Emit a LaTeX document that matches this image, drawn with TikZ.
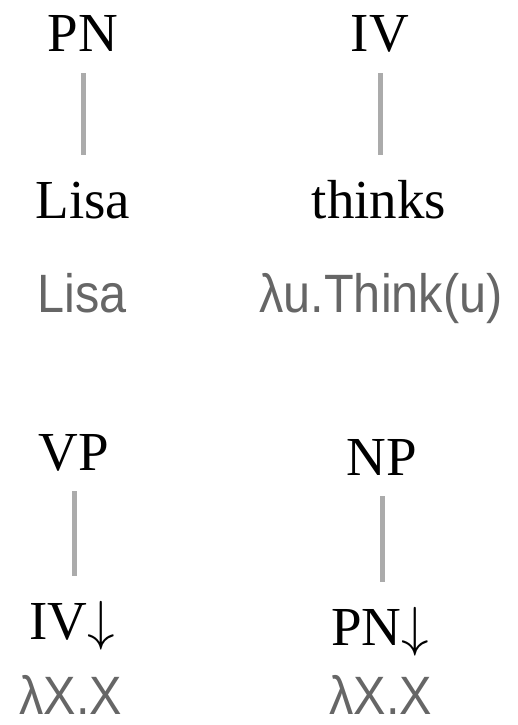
\RequirePackage{fix-cm}
\documentclass[tikz,border=0pt]{standalone}
\usepackage{fontspec}
\setmainfont{Liberation Serif}
\newfontfamily\semfont[FakeStretch=0.9]{Liberation Sans}
\definecolor{semgray}{HTML}{666666}
\definecolor{linkgray}{HTML}{ABABAB}

\begin{document}
\begin{tikzpicture}[x=1pt,y=-1pt,
  cat/.style={anchor=base,font=\fontsize{55}{60}\selectfont,inner sep=7pt,text height=38.5pt,text depth=14pt},
  sem/.style={anchor=base,font=\semfont\fontsize{54}{60}\selectfont,text=semgray,inner sep=0pt},
  link/.style={draw=linkgray,line width=5pt,shorten >=17pt}]
\useasboundingbox (0,0) rectangle (518,725);
% elementary trees for the lexical items
\node[cat] (pn) at (83,52) {PN};
\node[cat] (lisa) at (83,218) {Lisa};
\node[sem] (lisasem) at (82,312) {Lisa};
\node[cat] (iv) at (380,52) {IV};
\node[cat] (thinks) at (379,218) {thinks};
\node[sem] (thinksem) at (381,312) {λu.Think(u)};
\draw[link] (pn.south) -- (pn.south |- lisa.north);
\draw[link] (iv.south) -- (iv.south |- thinks.north);
% unary trees with substitution nodes
\node[cat] (vp) at (74,470) {VP};
\node[cat] (ivfoot) at (72,639) {IV$\downarrow$};
\node[sem] (vpsem) at (71,714) {λX.X};
\node[cat] (np) at (382,475) {NP};
\node[cat] (pnfoot) at (380,645) {PN$\downarrow$};
\node[sem] (npsem) at (381,714) {λX.X};
\draw[link] (vp.south) -- (vp.south |- ivfoot.north);
\draw[link] (np.south) -- (np.south |- pnfoot.north);
\end{tikzpicture}
\end{document}
